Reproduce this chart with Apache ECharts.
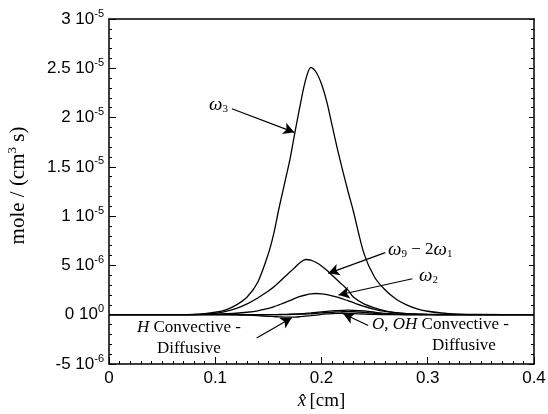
<!DOCTYPE html>
<html>
<head>
<meta charset="utf-8">
<script src="https://cdn.jsdelivr.net/npm/echarts@6/dist/echarts.min.js"></script>
<style>
  html, body { margin: 0; padding: 0; background: #fff; }
  #chart { width: 548px; height: 414px; }
</style>
</head>
<body>
<div id="chart"></div>
<script>
// x positions (cm), shared by every curve
var xs = [0, 0.05, 0.08, 0.09, 0.10, 0.11, 0.12, 0.13, 0.14, 0.15, 0.155, 0.16, 0.165, 0.17, 0.175, 0.18, 0.185, 0.19, 0.195, 0.20,
  0.205, 0.21, 0.215, 0.22, 0.225, 0.23, 0.24, 0.25, 0.26, 0.27, 0.28, 0.29, 0.30, 0.32, 0.35, 0.40];
// rates in units of 1e-6 mole/(cm^3 s)
var w3 = [0, 0, 0.03, 0.1, 0.25, 0.5, 1.0, 1.8, 3.3, 6.2, 8.2, 10.8, 13.2, 15.6, 18.5, 21.3, 23.8, 25.1, 24.6, 23.4,
  21.6, 19.2, 16.8, 14.6, 12.5, 10.5, 6.2, 3.8, 2.5, 1.6, 1.0, 0.6, 0.35, 0.1, 0.02, 0];
var w9m2w1 = [0, 0, 0.02, 0.06, 0.15, 0.35, 0.65, 1.1, 1.7, 2.4, 2.8, 3.3, 3.8, 4.3, 4.8, 5.3, 5.6, 5.55, 5.3, 4.95,
  4.5, 4.0, 3.5, 3.0, 2.5, 1.8, 1.1, 0.7, 0.4, 0.22, 0.12, 0.07, 0.04, 0.01, 0, 0];
var w2 = [0, 0, 0.01, 0.03, 0.06, 0.1, 0.15, 0.25, 0.4, 0.65, 0.8, 1.0, 1.2, 1.42, 1.65, 1.85, 2.0, 2.12, 2.15, 2.12,
  2.04, 1.92, 1.78, 1.6, 1.42, 1.22, 0.85, 0.55, 0.33, 0.18, 0.1, 0.05, 0.03, 0.01, 0, 0];
var oCD = [0, 0, 0, 0, 0, 0, 0, 0, 0, 0, 0.01, 0.02, 0.03, 0.05, 0.07, 0.1, 0.14, 0.18, 0.23, 0.28,
  0.33, 0.38, 0.42, 0.45, 0.46, 0.45, 0.38, 0.25, 0.13, 0.06, 0.02, 0, 0, 0, 0, 0];
var ohCD = [0, 0, 0, 0, 0, 0, 0, 0, 0, 0, 0, 0.01, 0.01, 0.02, 0.03, 0.05, 0.07, 0.1, 0.14, 0.18,
  0.22, 0.25, 0.28, 0.3, 0.31, 0.3, 0.25, 0.15, 0.08, 0.03, 0.01, 0, 0, 0, 0, 0];
var hCD = [0, 0, 0, 0, 0, 0, -0.02, -0.05, -0.1, -0.16, -0.19, -0.22, -0.24, -0.25, -0.24, -0.2, -0.15, -0.1, -0.04, 0.03,
  0.08, 0.12, 0.14, 0.15, 0.14, 0.12, 0.07, 0.03, 0.01, 0, 0, 0, 0, 0, 0, 0];

// y tick labels: mantissa and exponent, from -5e-6 up to 3e-5
var yTickMant = ['-5', '0', '5', '1', '1.5', '2', '2.5', '3'];
var yTickExp = ['-6', '0', '-6', '-5', '-5', '-5', '-5', '-5'];
var xTickLabels = ['0', '0.1', '0.2', '0.3', '0.4'];

// arrows: [from, to] in (cm, 1e-6)
var arrows = [
  [[0.1157, 20.9], [0.1744, 18.5]],
  [[0.260, 6.3], [0.2064, 4.2]],
  [[0.2856, 3.65], [0.216, 2.0]],
  [[0.244, -1.1], [0.2205, 0.1]],
  [[0.139, -2.36], [0.172, -0.3]]
];

function toPairs(ys) {
  return xs.map(function (x, i) { return [x, ys[i] * 1e-6]; });
}

var curveList = [w3, w9m2w1, w2, oCD, ohCD, hCD];
var series = curveList.map(function (ys, k) {
  var s = {
    type: 'line',
    data: toPairs(ys),
    smooth: 0.3,
    showSymbol: false,
    silent: true,
    lineStyle: { color: '#000', width: 1.3 },
    z: 3
  };
  if (k === 0) {
    s.markLine = {
      silent: true,
      symbol: ['none', 'arrow'],
      symbolSize: [9, 11],
      label: { show: false },
      lineStyle: { color: '#000', width: 1.2, type: 'solid' },
      data: arrows.map(function (a) {
        return [{ coord: [a[0][0], a[0][1] * 1e-6] }, { coord: [a[1][0], a[1][1] * 1e-6] }];
      })
    };
  }
  return s;
});

var serif = '"Liberation Serif", "Times New Roman", serif';
var sans = '"Liberation Sans", Arial, sans-serif';
var greekRich = {
  w: { fontFamily: serif, fontStyle: 'italic', fontSize: 19, color: '#000' },
  s: { fontFamily: serif, fontSize: 11, color: '#000', padding: [9, 0, 0, 0] },
  t: { fontFamily: serif, fontSize: 17, color: '#000' },
  i: { fontFamily: serif, fontStyle: 'italic', fontSize: 17, color: '#000' }
};

var tickStyle = { color: '#000', width: 1 };

var chart = echarts.init(document.getElementById('chart'));
chart.setOption({
  animation: false,
  backgroundColor: '#fff',
  grid: { left: 109, top: 19, right: 14, bottom: 50, containLabel: false, outerBoundsMode: 'none' },
  xAxis: [{
    type: 'value',
    min: 0, max: 0.4, interval: 0.1,
    axisLine: { onZero: false, lineStyle: { color: '#000', width: 1.5 } },
    axisTick: { show: true, inside: true, length: 7, lineStyle: tickStyle },
    minorTick: { show: true, splitNumber: 10, length: 3, lineStyle: tickStyle },
    splitLine: { show: false },
    axisLabel: {
      color: '#000', fontFamily: sans, fontSize: 17, margin: 6,
      formatter: function (v) { return xTickLabels[Math.round(v * 10)]; }
    },
    name: '{i|x\u0302} {t|[cm]}',
    nameLocation: 'middle',
    nameGap: 27,
    nameTextStyle: {
      rich: {
        t: { fontFamily: serif, fontSize: 19, color: '#000' },
        i: { fontFamily: serif, fontStyle: 'italic', fontSize: 19, color: '#000' }
      }
    }
  }, {
    type: 'value', position: 'top',
    min: 0, max: 0.4, interval: 0.1,
    axisLine: { onZero: false, lineStyle: { color: '#000', width: 1.5 } },
    axisTick: { show: false }, axisLabel: { show: false }, splitLine: { show: false }
  }],
  yAxis: [{
    type: 'value',
    min: -5e-6, max: 3e-5, interval: 5e-6,
    axisLine: { onZero: false, lineStyle: { color: '#000', width: 1.5 } },
    axisTick: { show: true, inside: true, length: 7, lineStyle: tickStyle },
    minorTick: { show: true, splitNumber: 5, length: 3, lineStyle: tickStyle },
    splitLine: { show: false },
    axisLabel: {
      margin: 5,
      formatter: function (v) {
        var k = Math.round(v / 5e-6) + 1;
        return '{m|' + yTickMant[k] + ' 10}{e|' + yTickExp[k] + '}';
      },
      rich: {
        m: { fontFamily: sans, fontSize: 17, color: '#000' },
        e: { fontFamily: sans, fontSize: 11, color: '#000', padding: [0, 0, 11, 0] }
      }
    },
    name: '{t|mole / (cm}{s|3}{t| s)}',
    nameLocation: 'middle',
    nameGap: 78,
    nameTextStyle: {
      padding: [0, 0, 0, 12],
      rich: {
        t: { fontFamily: serif, fontSize: 21, color: '#000' },
        s: { fontFamily: serif, fontSize: 13, color: '#000', padding: [0, 0, 12, 0] }
      }
    }
  }, {
    type: 'value', position: 'right',
    min: -5e-6, max: 3e-5, interval: 5e-6,
    axisLine: { onZero: false, lineStyle: { color: '#000', width: 1.5 } },
    axisTick: { show: true, inside: true, length: 5, lineStyle: tickStyle },
    minorTick: { show: true, splitNumber: 5, length: 3, lineStyle: tickStyle },
    axisLabel: { show: false }, splitLine: { show: false }
  }],
  graphic: [
    { type: 'text', left: 209, top: 95, style: { text: '{w|ω}{s|3}', rich: greekRich } },
    { type: 'text', left: 388, top: 240, style: { text: '{w|ω}{s|9}{t| − 2}{w|ω}{s|1}', rich: greekRich } },
    { type: 'text', left: 419, top: 266, style: { text: '{w|ω}{s|2}', rich: greekRich } },
    { type: 'text', left: 372, top: 316, style: { text: '{i|O}{t|, }{i|OH}{t| Convective -}', rich: greekRich } },
    { type: 'text', left: 432, top: 337, style: { text: '{t|Diffusive}', rich: greekRich } },
    { type: 'text', left: 137, top: 319, style: { text: '{i|H}{t| Convective -}', rich: greekRich } },
    { type: 'text', left: 157, top: 340, style: { text: '{t|Diffusive}', rich: greekRich } }
  ],
  series: series
});
</script>
</body>
</html>
